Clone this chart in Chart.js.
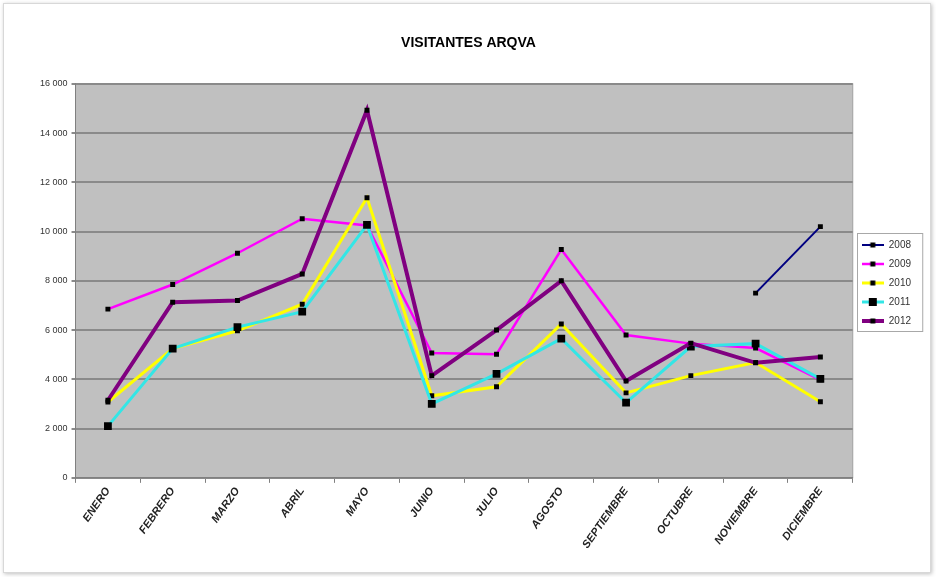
<!DOCTYPE html>
<html>
<head>
<meta charset="utf-8">
<script src="https://cdn.jsdelivr.net/npm/chart.js@4"></script>
<style>
  html, body { margin: 0; padding: 0; background: #fff; }
  #wrap { position: relative; width: 936px; height: 577px; }
  #frame { position: absolute; left: 3px; top: 3px; width: 926px; height: 568px;
           border: 1px solid #d8d8d8; box-shadow: 1px 1px 4px rgba(0,0,0,0.25); pointer-events: none; }
</style>
</head>
<body>
<div id="wrap">
  <canvas id="chart" width="936" height="577"></canvas>
  <div id="frame"></div>
</div>
<script>
// months on the x axis
const months = ['ENERO', 'FEBRERO', 'MARZO', 'ABRIL', 'MAYO', 'JUNIO', 'JULIO', 'AGOSTO',
                'SEPTIEMBRE', 'OCTUBRE', 'NOVIEMBRE', 'DICIEMBRE'];

// visitors per year
const v2008 = [null, null, null, null, null, null, null, null, null, null, 7500, 10200];
const v2009 = [6850, 7850, 9120, 10520, 10250, 5070, 5020, 9270, 5800, 5450, 5270, 3980];
const v2010 = [3080, 5250, 5970, 7050, 11370, 3330, 3700, 6250, 3450, 4150, 4680, 3090];
const v2011 = [2100, 5250, 6120, 6750, 10270, 3000, 4220, 5650, 3050, 5330, 5450, 4020];
const v2012 = [3150, 7130, 7200, 8280, 14930, 4150, 6000, 8000, 3930, 5470, 4670, 4910];

const yTicks = [0, 2000, 4000, 6000, 8000, 10000, 12000, 14000, 16000];

// little legend glyph: coloured line with a black square in the middle
function glyph(color, lw, sq) {
  const c = document.createElement('canvas');
  c.width = 22; c.height = 10;
  const g = c.getContext('2d');
  g.strokeStyle = color; g.lineWidth = lw;
  g.beginPath(); g.moveTo(0, 5); g.lineTo(22, 5); g.stroke();
  g.fillStyle = '#000';
  g.fillRect(11 - sq / 2, 5 - sq / 2, sq, sq);
  return c;
}

function ds(label, data, color, lw, r, sq, order) {
  return {
    label: label, data: data, borderColor: color, borderWidth: lw,
    backgroundColor: '#000', pointBackgroundColor: '#000', pointBorderWidth: 0,
    pointStyle: 'rect', pointRadius: r, pointHoverRadius: r,
    pointStyleImg: glyph(color, lw, sq),
    tension: 0, spanGaps: false, order: order
  };
}

const LEGEND_SHIFT = -11;
const TITLE_SHIFT = -10;

const plotBg = {
  id: 'plotBg',
  afterLayout(chart) {
    // Excel puts the legend a bit higher than the plot centre
    const l = chart.legend;
    l.top += LEGEND_SHIFT; l.bottom += LEGEND_SHIFT;
    (l.legendHitBoxes || []).forEach(b => { b.top += LEGEND_SHIFT; });
    // and the title centred on the whole chart, not the padded box
    const t = chart.titleBlock;
    if (t) { t.left += TITLE_SHIFT; t.right += TITLE_SHIFT; }
  },
  beforeDraw(chart) {
    const a = chart.chartArea, ctx = chart.ctx;
    ctx.save();
    ctx.fillStyle = '#c0c0c0';
    ctx.fillRect(a.left, a.top, a.right - a.left, a.bottom - a.top);
    ctx.strokeStyle = '#a0a0a0'; ctx.lineWidth = 1;
    ctx.strokeRect(a.left, a.top, a.right - a.left, a.bottom - a.top);
    ctx.restore();
  },
  afterDraw(chart) {
    // frame round the legend items only
    const hb = chart.legend.legendHitBoxes, ctx = chart.ctx;
    if (!hb || !hb.length) return;
    let x0 = Infinity, y0 = Infinity, x1 = -Infinity, y1 = -Infinity;
    hb.forEach(b => {
      x0 = Math.min(x0, b.left); y0 = Math.min(y0, b.top);
      x1 = Math.max(x1, b.left + b.width); y1 = Math.max(y1, b.top + b.height);
    });
    ctx.save();
    ctx.strokeStyle = '#a8a8a8'; ctx.lineWidth = 1;
    ctx.strokeRect(Math.round(x0) - 4.5, Math.round(y0) - 6.5, x1 - x0 + 16, y1 - y0 + 12);
    ctx.restore();
  }
};

new Chart(document.getElementById('chart'), {
  type: 'line',
  data: {
    labels: months,
    datasets: [
      ds('2008', v2008, '#000080', 2, 3.5, 5, 4),
      ds('2009', v2009, '#ff00ff', 2.5, 3.5, 5, 3),
      ds('2010', v2010, '#ffff00', 3, 3.5, 5, 2),
      ds('2011', v2011, '#33e6e6', 3, 5.5, 8, 1),
      ds('2012', v2012, '#800080', 4, 3.5, 5, 0)
    ]
  },
  options: {
    responsive: false,
    animation: false,
    layout: { padding: { left: 36, right: 15, top: 35, bottom: 24 } },
    plugins: {
      title: {
        display: true, text: 'VISITANTES ARQVA', color: '#000',
        font: { family: 'Liberation Sans', size: 14, weight: 'bold' },
        padding: { top: 0, bottom: 32 }
      },
      legend: {
        position: 'right',
        labels: {
          usePointStyle: true, pointStyleWidth: 22, padding: 9,
          color: '#333', font: { family: 'Liberation Sans', size: 10 },
          sort: (a, b) => a.datasetIndex - b.datasetIndex,
          generateLabels(chart) {
            return chart.data.datasets.map((d, i) => ({
              text: d.label, datasetIndex: i, pointStyle: d.pointStyleImg,
              fillStyle: d.borderColor, strokeStyle: d.borderColor, lineWidth: 0,
              fontColor: '#333', hidden: false
            }));
          }
        }
      },
      tooltip: { enabled: false }
    },
    scales: {
      x: {
        offset: true,
        grid: { offset: true, drawOnChartArea: false, tickLength: 5, color: '#808080' },
        border: { color: '#808080', width: 1 },
        ticks: {
          maxRotation: 55, minRotation: 55, autoSkip: false, padding: 2,
          color: '#222', font: { family: 'Liberation Sans', size: 11, weight: 'bold', style: 'italic' }
        }
      },
      y: {
        min: 0, max: 16000,
        afterBuildTicks(scale) { scale.ticks = yTicks.map(v => ({ value: v })); },
        grid: { color: '#8a8a8a', lineWidth: 2, tickLength: 4 },
        border: { color: '#808080', width: 1 },
        ticks: {
          color: '#333', padding: 4,
          font: { family: 'Liberation Sans', size: 9 },
          callback: v => String(v).replace(/\B(?=(\d{3})+(?!\d))/g, ' ')
        }
      }
    }
  },
  plugins: [plotBg]
});
</script>
</body>
</html>
